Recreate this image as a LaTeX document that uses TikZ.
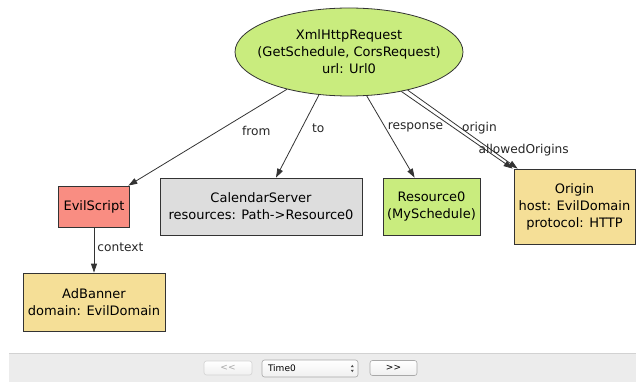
\documentclass[tikz,border=0pt]{standalone}
\usepackage{fontspec}
\setmainfont{DejaVu Sans}
\usepackage{tikz}
\usetikzlibrary{
  arrows.meta,
  shapes.geometric
}
\usepackage{xcolor}
\definecolor{reqfill}{HTML}{C9EC7E}
\definecolor{evilfill}{HTML}{F98D82}
\definecolor{srvfill}{HTML}{DDDDDD}
\definecolor{origfill}{HTML}{F5DF97}
\definecolor{edgeline}{HTML}{333333}
\definecolor{barfill}{HTML}{ECECEC}
\definecolor{barline}{HTML}{D2D2D2}
\definecolor{btnline}{HTML}{A8A8A8}

\begin{document}
\begin{tikzpicture}[
  x=1pt, y=-1pt,
  obj/.style={draw=edgeline, line width=0.8pt, inner sep=0pt, align=center,
              font=\fontsize{13}{17}\selectfont},
  lbl/.style={inner sep=0pt, anchor=west, text=black!85, font=\fontsize{12.2}{14}\selectfont},
  arr/.style={-{Triangle[length=9pt,width=6pt]}, line width=0.8pt, edgeline},
  btn/.style={draw=btnline, top color=white, bottom color=black!6, rounded corners=2.5pt,
              line width=0.6pt, inner sep=0pt, font=\fontsize{9}{10}\selectfont}
]
  \useasboundingbox (0,0) rectangle (636,382);

  % Atoms
  \node[obj, ellipse, fill=reqfill, minimum width=228pt, minimum height=88pt,
        inner xsep=-20pt] (req) at (349,52)
    {XmlHttpRequest\\(GetSchedule, CorsRequest)\\url: Url0};
  \node[obj, fill=evilfill, minimum width=71pt, minimum height=41pt] (evil) at (94,206.5) {EvilScript};
  \node[obj, fill=srvfill, minimum width=202pt, minimum height=57pt] (cal) at (261,206.5)
    {CalendarServer\\resources: Path->Resource0};
  \node[obj, fill=reqfill, minimum width=97pt, minimum height=57pt] (res) at (431.5,206.5)
    {Resource0\\(MySchedule)};
  \node[obj, fill=origfill, minimum width=121pt, minimum height=75pt] (org) at (574.5,206.5)
    {Origin\\host: EvilDomain\\protocol: HTTP};
  \node[obj, fill=origfill, minimum width=142pt, minimum height=58pt] (ad) at (94,302)
    {AdBanner\\domain: EvilDomain};

  % Relations
  \draw[arr] (req.211) -- (evil) node[lbl, pos=0.43, xshift=23pt] {from};
  \draw[arr] (req.235) -- (cal) node[lbl, pos=0.40, xshift=10pt] {to};
  \draw[arr] (req.292) -- (res) node[lbl, pos=0.39, xshift=2pt] {response};
  \draw[arr] (req.323.5) -- ([xshift=-1pt]org.north west) node[lbl, pos=0.47, xshift=8pt] {origin};
  \draw[arr] (req.327) -- ([xshift=4pt]org.north west) node[lbl, pos=0.76, xshift=-13pt] {allowedOrigins};
  \draw[arr] (evil) -- (ad) node[lbl, pos=0.43, xshift=3pt] {context};

  % Navigation bar
  \fill[barfill] (9,353) rectangle (636,382);
  \draw[barline] (9,353) -- (636,353);
  \node[btn, draw=btnline!50, text=btnline, minimum width=48pt, minimum height=14pt] (prev) at (228,368) {<{}<};
  \node[btn, minimum height=17pt, text width=84pt, inner xsep=6pt, align=left] (time) at (310,368.5) {Time0};
  \node[btn, minimum width=47pt, minimum height=15pt] (next) at (393.5,368) {>{}>};
  \fill[black!70] ([xshift=-7.5pt,yshift=1.3pt]time.east) -- ++(3,0) -- ++(-1.5,-2.4) -- cycle;
  \fill[black!70] ([xshift=-7.5pt,yshift=-1.3pt]time.east) -- ++(3,0) -- ++(-1.5,2.4) -- cycle;
\end{tikzpicture}
\end{document}
